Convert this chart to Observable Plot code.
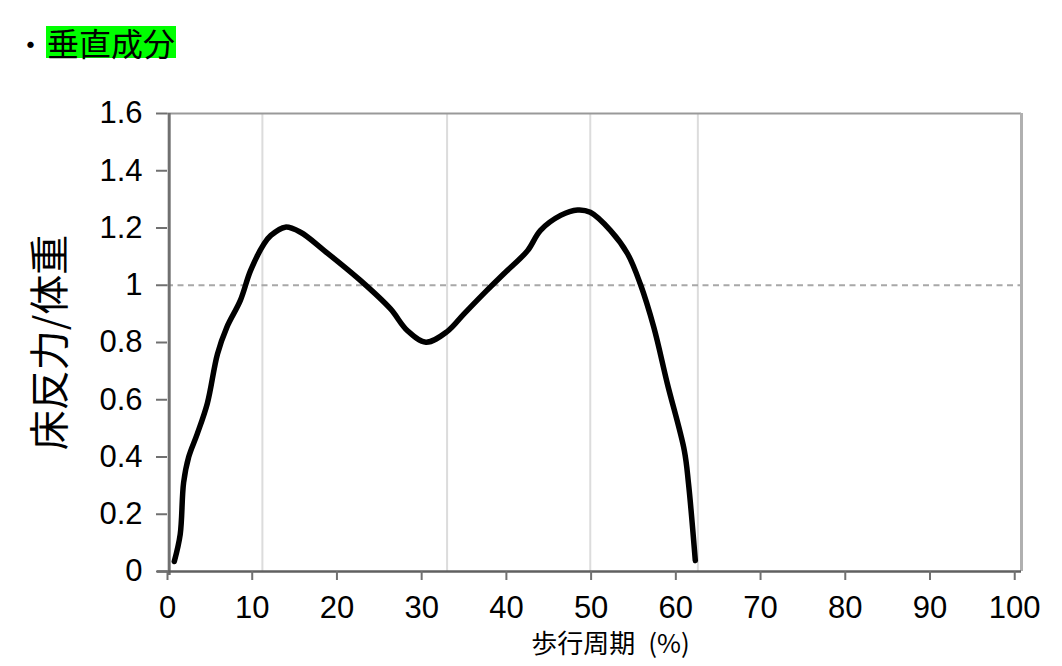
<!DOCTYPE html>
<html>
<head>
<meta charset="utf-8">
<script src="https://cdn.jsdelivr.net/npm/d3@7"></script>
<script src="https://cdn.jsdelivr.net/npm/@observablehq/plot@0.6"></script>
<style>
  html, body { margin: 0; padding: 0; background: #fff; }
  body { width: 1062px; height: 666px; position: relative; overflow: hidden; font-family: "Noto Sans CJK JP", "Liberation Sans", sans-serif; }
  #title { position: absolute; left: 15px; top: 26px; height: 32px; font-size: 32px; line-height: 32px; color: #000; white-space: nowrap; }
  #title .dot { display: inline-block; width: 31px; text-align: center; font-size: 30px; }
  #title .hl { display: inline-block; background: #00ff00; height: 32px; line-height: 32px; padding: 0 1px; }
  #chart { position: absolute; left: 0; top: 80px; }
</style>
</head>
<body>
<div id="title"><span class="dot">・</span><span class="hl">垂直成分</span></div>
<div id="chart"></div>
<script>
// Data
const cycle = [0.8, 1.5, 1.9, 2.5, 3.5, 4.7, 5.9, 7.0, 8.6, 9.8, 11.4, 12.2, 13.9, 15.7, 18.5, 22.8, 26.3, 28.3, 30.5, 33.0, 35.0, 37.7, 39.7, 42.5, 44.0, 46.4, 48.4, 49.9, 52.3, 54.3, 55.8, 57.4, 59.0, 61.0, 61.5, 62.3];
const force = [0.035, 0.13, 0.31, 0.40, 0.48, 0.587, 0.76, 0.853, 0.947, 1.051, 1.145, 1.174, 1.203, 1.185, 1.121, 1.016, 0.918, 0.842, 0.801, 0.838, 0.90, 0.982, 1.04, 1.121, 1.191, 1.244, 1.263, 1.255, 1.191, 1.11, 1.005, 0.853, 0.656, 0.423, 0.306, 0.038];
const eventLines = [11.2, 33.0, 49.9, 62.6];
const bodyWeightLine = [1];
const xTicks = [0, 10, 20, 30, 40, 50, 60, 70, 80, 90, 100];
const yTicks = [0, 0.2, 0.4, 0.6, 0.8, 1, 1.2, 1.4, 1.6];
const xLabel = "歩行周期\u2002(%)";
const yLabel = "床反力/体重";

const table = cycle.map((c, i) => ({cycle: c, force: force[i]}));

const tickFont = "'Liberation Sans', Arial, sans-serif";
const cjkFont = "'Noto Sans CJK JP', sans-serif";

const chart = Plot.plot({
  width: 1062,
  height: 586,
  marginLeft: 167,
  marginRight: 41,
  marginTop: 33,
  marginBottom: 95,
  style: {background: "#fff", color: "#000"},
  x: {domain: [0, 100.8]},
  y: {domain: [0, 1.6]},
  marks: [
    Plot.ruleX(eventLines, {stroke: "#dcdcdc", strokeWidth: 2}),
    Plot.ruleY(bodyWeightLine, {stroke: "#a8a8a8", strokeWidth: 2, strokeDasharray: "6,4.5"}),
    Plot.ruleY([1.6], {stroke: "#999", strokeWidth: 2}),
    Plot.ruleX([100.8], {stroke: "#b0b0b0", strokeWidth: 3}),
    Plot.line(table, {x: "cycle", y: "force", stroke: "#000", strokeWidth: 5.5, curve: "catmull-rom"}),
    Plot.ruleX([0.2], {stroke: "#707070", strokeWidth: 3, insetBottom: -4}),
    Plot.ruleY([0], {stroke: "#606060", strokeWidth: 2.5, insetLeft: -10}),
    Plot.axisY({ticks: yTicks, tickSize: 11, tickPadding: 14, fontSize: 31, fontFamily: tickFont,
      stroke: "#707070", strokeWidth: 2, fill: "#000", label: null, tickFormat: d => String(+d.toFixed(1))}),
    Plot.axisX({ticks: xTicks, tickSize: 9, tickPadding: 15, fontSize: 31, fontFamily: tickFont,
      stroke: "#707070", strokeWidth: 2, fill: "#000", label: null, tickFormat: d => String(d)}),
    Plot.text([xLabel], {frameAnchor: "bottom", textAnchor: "middle", dx: 16, dy: 81, fontSize: 26, fontFamily: cjkFont, fill: "#000", text: d => d}),
    Plot.text([yLabel], {frameAnchor: "left", textAnchor: "middle", dx: -116, rotate: -90, fontSize: 40, fontFamily: cjkFont, fill: "#000", text: d => d})
  ]
});
document.getElementById("chart").appendChild(chart);
</script>
</body>
</html>
